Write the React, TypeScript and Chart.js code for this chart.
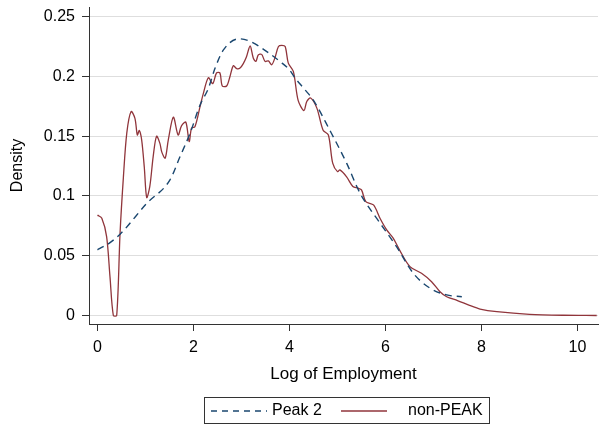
import React, { useEffect, useRef } from "react";
import { Chart, registerables } from "chart.js";

Chart.register(...registerables);

const seriesLabels = ["Peak 2", "non-PEAK"];
const xTicks = [0, 2, 4, 6, 8, 10];
const yTicks = [0, 0.05, 0.1, 0.15, 0.2, 0.25];

const peakX = [0.0, 0.12, 0.19, 0.47, 1.03, 1.51, 1.72, 1.93, 2.135, 2.31, 2.45, 2.62, 2.95, 3.2, 3.52, 3.8, 4.01, 4.11, 4.32, 4.5, 4.84, 5.19, 5.47, 5.885, 6.23, 6.58, 6.93, 7.275, 7.59];
const peakY = [0.055, 0.0576, 0.059, 0.068, 0.094, 0.1135, 0.133, 0.1526, 0.176, 0.19, 0.207, 0.222, 0.2315, 0.229, 0.221, 0.2126, 0.205, 0.199, 0.189, 0.18, 0.155, 0.1275, 0.1023, 0.0774, 0.0576, 0.0353, 0.0228, 0.0172, 0.0157];

const nonPeakX = [0.0, 0.09, 0.19, 0.26, 0.33, 0.4, 0.47, 0.54, 0.61, 0.7, 0.78, 0.83, 0.87, 0.92, 0.975, 1.025, 1.09, 1.16, 1.23, 1.3, 1.34, 1.41, 1.475, 1.58, 1.68, 1.75, 1.84, 1.91, 1.96, 2.03, 2.135, 2.2, 2.31, 2.4, 2.48, 2.55, 2.6, 2.69, 2.76, 2.83, 2.9, 2.97, 3.04, 3.1, 3.18, 3.245, 3.3, 3.35, 3.42, 3.49, 3.56, 3.63, 3.7, 3.77, 3.84, 3.91, 3.975, 4.08, 4.18, 4.3, 4.36, 4.44, 4.57, 4.7, 4.81, 4.9, 5.0, 5.05, 5.19, 5.32, 5.43, 5.5, 5.59, 5.75, 5.885, 6.025, 6.16, 6.3, 6.51, 6.75, 6.96, 7.135, 7.275, 7.5, 7.75, 7.97, 8.32, 9.0, 9.7, 10.4];
const nonPeakY = [0.084, 0.0814, 0.066, 0.0325, 0.0, 0.0, 0.0688, 0.116, 0.1526, 0.1707, 0.165, 0.151, 0.1548, 0.147, 0.124, 0.0987, 0.108, 0.133, 0.15, 0.144, 0.1367, 0.1317, 0.147, 0.166, 0.151, 0.1587, 0.1618, 0.1456, 0.1568, 0.158, 0.1745, 0.185, 0.199, 0.194, 0.203, 0.203, 0.192, 0.192, 0.2, 0.209, 0.2065, 0.207, 0.211, 0.216, 0.2255, 0.2155, 0.2126, 0.218, 0.2185, 0.2126, 0.213, 0.2098, 0.216, 0.2251, 0.226, 0.2251, 0.2112, 0.2042, 0.18, 0.1715, 0.179, 0.182, 0.1735, 0.155, 0.151, 0.1275, 0.1204, 0.1218, 0.116, 0.108, 0.1065, 0.1051, 0.0953, 0.0925, 0.0814, 0.0716, 0.0647, 0.0543, 0.0409, 0.0353, 0.0283, 0.0199, 0.0157, 0.0125, 0.0085, 0.0054, 0.0032, 0.001, 0.0002, 0.0];

const FONT = "'Liberation Sans', Arial, Helvetica, sans-serif";
const BLUE = "#1a476f";
const RED = "#90353b";
const AXIS = "#333333";

const toPoints = (xs: number[], ys: number[]) => xs.map((x, i) => ({ x, y: ys[i] }));

const boxLegend = {
  id: "boxLegend",
  afterDraw(chart: any) {
    const ctx = chart.ctx as CanvasRenderingContext2D;
    const ds = chart.data.datasets;
    ctx.save();
    ctx.setLineDash([]);
    ctx.strokeStyle = AXIS;
    ctx.lineWidth = 1;
    ctx.strokeRect(204.5, 397.5, 285, 26);
    const cy = 411;
    ctx.beginPath();
    ctx.setLineDash([6, 5]);
    ctx.strokeStyle = ds[0].borderColor;
    ctx.lineWidth = 1.4;
    ctx.moveTo(211, cy);
    ctx.lineTo(267, cy);
    ctx.stroke();
    ctx.setLineDash([]);
    ctx.beginPath();
    ctx.strokeStyle = ds[1].borderColor;
    ctx.lineWidth = 1.3;
    ctx.moveTo(341, cy);
    ctx.lineTo(387, cy);
    ctx.stroke();
    ctx.fillStyle = "#000";
    ctx.font = `16px ${FONT}`;
    ctx.textBaseline = "middle";
    ctx.textAlign = "left";
    ctx.fillText(ds[0].label, 272, cy);
    ctx.fillText(ds[1].label, 408, cy);
    ctx.restore();
  },
};

export default function App() {
  const ref = useRef<HTMLCanvasElement>(null);
  useEffect(() => {
    if (!ref.current) return;
    const chart = new Chart(ref.current, {
      type: "line",
      data: {
        datasets: [
          {
            label: seriesLabels[0],
            data: toPoints(peakX, peakY),
            borderColor: BLUE,
            borderWidth: 1.4,
            borderDash: [7, 5],
            pointRadius: 0,
            fill: false,
            cubicInterpolationMode: "monotone",
          },
          {
            label: seriesLabels[1],
            data: toPoints(nonPeakX, nonPeakY),
            borderColor: RED,
            borderWidth: 1.3,
            pointRadius: 0,
            fill: false,
            tension: 0.3,
          },
        ],
      },
      options: {
        animation: false,
        responsive: false,
        devicePixelRatio: 1,
        layout: { padding: { left: 0, top: 7, right: 2, bottom: 40 } },
        plugins: { legend: { display: false }, tooltip: { enabled: false } },
        scales: {
          x: {
            type: "linear",
            position: "bottom",
            min: -0.177,
            max: 10.427,
            afterBuildTicks: (s: any) => {
              s.ticks = xTicks.map((v) => ({ value: v }));
            },
            afterFit: (s: any) => {
              s.height = 61;
              s.paddingLeft = 0;
              s.paddingRight = 0;
            },
            grid: { drawOnChartArea: false, drawTicks: true, tickLength: 7, tickColor: AXIS, tickWidth: 1 },
            border: { color: AXIS, width: 1 },
            ticks: { padding: 7, color: "#000", font: { family: FONT, size: 16 }, maxRotation: 0, autoSkip: false, callback: (v: any) => String(v) },
            title: { display: true, text: "Log of Employment", color: "#000", font: { family: FONT, size: 17 }, padding: { top: 0, bottom: 0 } },
          },
          y: {
            type: "linear",
            min: -0.00711,
            max: 0.25812,
            afterBuildTicks: (s: any) => {
              s.ticks = yTicks.map((v) => ({ value: v }));
            },
            afterFit: (s: any) => {
              s.width = 89;
              s.paddingTop = 0;
              s.paddingBottom = 0;
            },
            grid: { color: "#dedede", lineWidth: 1, drawTicks: true, tickLength: 7, tickColor: AXIS, tickWidth: 1 },
            border: { color: AXIS, width: 1 },
            ticks: { padding: 7, color: "#000", font: { family: FONT, size: 16 }, autoSkip: false, callback: (v: any) => String(Math.round(Number(v) * 100) / 100) },
            title: { display: true, text: "Density", color: "#000", font: { family: FONT, size: 16 }, padding: { top: 8, bottom: 0 } },
          },
        },
      },
      plugins: [boxLegend],
    });
    return () => chart.destroy();
  }, []);
  return (
    <div style={{ position: "absolute", left: 0, top: 0, width: 600, height: 425, background: "#fff" }}>
      <canvas ref={ref} width={600} height={425} style={{ display: "block", width: 600, height: 425 }} />
    </div>
  );
}
